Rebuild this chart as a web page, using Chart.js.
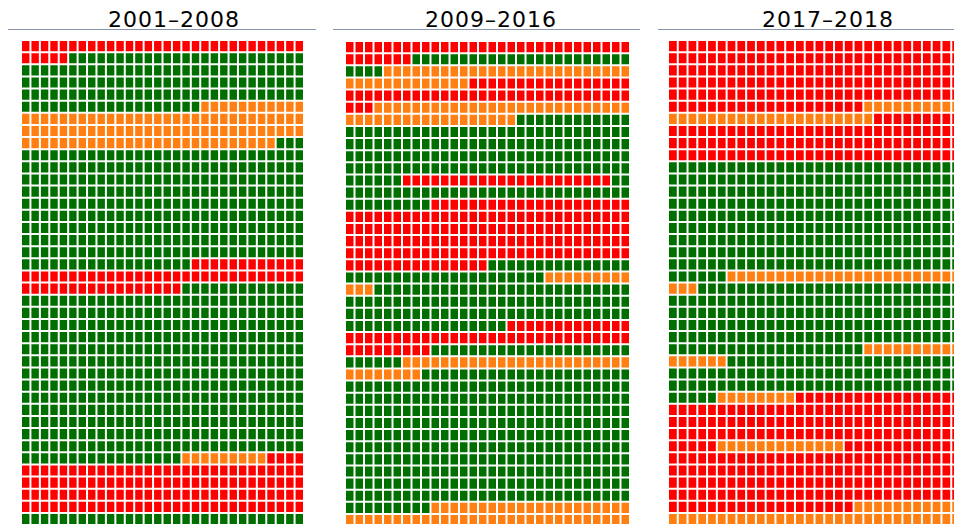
<!DOCTYPE html>
<html>
<head>
<meta charset="utf-8">
<script src="https://cdn.jsdelivr.net/npm/chart.js@4.4.1/dist/chart.umd.min.js"></script>
<style>
  html, body { margin: 0; padding: 0; background: #fff; overflow: hidden; width: 954px; height: 524px; }
  .title { position: absolute; top: 9px; width: 240px; text-align: center; font-family: 'DejaVu Sans', sans-serif; font-size: 22px; line-height: 22px; letter-spacing: 1px; color: #000; white-space: nowrap; }
  .rule { position: absolute; top: 29px; height: 1px; background: #8796ab; }
  canvas { position: absolute; }
</style>
</head>
<body>
<div id="wrap"></div>
<script>
const cols = 30;
const rows = 40;
const colors = { R: '#ff0000', G: '#006f00', O: '#ff7f12' };

const titles = ['2001–2008', '2009–2016', '2017–2018'];

// runs of cells, filled row by row from the top left
const kinds1 = ['R', 'G', 'O', 'G', 'R', 'G', 'O', 'R', 'G'];
const counts1 = [35, 134, 98, 291, 59, 420, 9, 124, 30];

const kinds2 = ['R', 'G', 'O', 'R', 'O', 'G', 'R', 'G', 'R', 'G', 'O', 'G', 'R', 'G', 'O', 'G', 'O'];
const counts2 = [37, 27, 39, 50, 45, 138, 22, 41, 156, 36, 12, 104, 52, 27, 32, 331, 51];

const kinds3 = ['R', 'O', 'R', 'G', 'O', 'G', 'O', 'G', 'O', 'R', 'O', 'R', 'O'];
const counts3 = [170, 31, 99, 276, 27, 167, 16, 89, 8, 112, 13, 151, 41];

const layout = [
  { left: 21, top: 40, width: 283, titleX: 174, ruleL: 8, ruleR: 316 },
  { left: 345, top: 41, width: 285, titleX: 491, ruleL: 333, ruleR: 640 },
  { left: 668, top: 40, width: 293, titleX: 828, ruleL: 658, ruleR: 954 }
];
const gridHeight = 485;

const series = [[kinds1, counts1], [kinds2, counts2], [kinds3, counts3]];
const wrap = document.getElementById('wrap');

function expand(kinds, counts) {
  let cells = [];
  kinds.forEach((k, i) => {
    for (let n = 0; n < counts[i]; n++) cells.push(k);
  });
  return cells;
}

series.forEach(([kinds, counts], p) => {
  const box = layout[p];

  const title = document.createElement('div');
  title.className = 'title';
  title.textContent = titles[p];
  title.style.left = (box.titleX - 120) + 'px';
  wrap.appendChild(title);

  const rule = document.createElement('div');
  rule.className = 'rule';
  rule.style.left = box.ruleL + 'px';
  rule.style.width = (box.ruleR - box.ruleL) + 'px';
  wrap.appendChild(rule);

  const canvas = document.createElement('canvas');
  canvas.width = box.width;
  canvas.height = gridHeight;
  canvas.style.left = box.left + 'px';
  canvas.style.top = box.top + 'px';
  wrap.appendChild(canvas);

  const cells = expand(kinds, counts);
  const labels = [];
  for (let c = 0; c < cols; c++) labels.push(c + 1);

  const datasets = [];
  for (let r = 0; r < rows; r++) {
    const row = cells.slice(r * cols, (r + 1) * cols);
    datasets.push({
      data: labels.map((_, c) => row[c] ? 1 : null),
      backgroundColor: labels.map((_, c) => colors[row[c]] || '#fff'),
      borderColor: '#ffffff',
      borderWidth: 1,
      borderSkipped: false,
      inflateAmount: 0,
      barPercentage: 1,
      categoryPercentage: 1
    });
  }

  new Chart(canvas, {
    type: 'bar',
    data: { labels, datasets },
    options: {
      responsive: false,
      animation: false,
      events: [],
      layout: { padding: 0 },
      plugins: { legend: { display: false }, tooltip: { enabled: false } },
      scales: {
        x: { display: false, stacked: true },
        y: { display: false, stacked: true, min: 0, max: rows, reverse: true }
      }
    }
  });
});
</script>
</body>
</html>
